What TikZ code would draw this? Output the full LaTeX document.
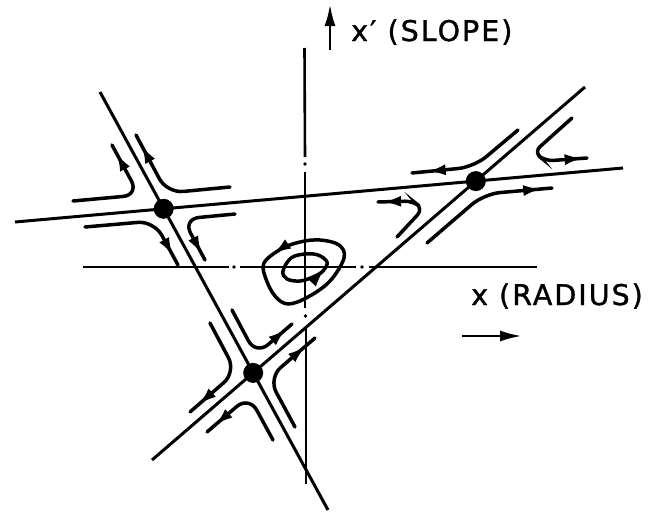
\documentclass[tikz,border=0pt]{standalone}
\usepackage{fontspec}
\newfontfamily\lab[LetterSpace=7,FakeBold=1.2]{DejaVu Sans}
\usetikzlibrary{arrows.meta,decorations.markings}
\begin{document}
\begin{tikzpicture}[x=1pt,y=-1pt,
  sep/.style={line width=3pt},
  axisline/.style={line width=2.6pt},
  traj/.style={line width=3.5pt, rounded corners=16pt, line cap=round},
  loop/.style={line width=3.5pt},
  flow/.style={postaction={decorate},decoration={markings,mark=at position #1 with {\arrow[line width=1pt]{Latex[length=16pt,width=11pt]}}}},
  saddle/.style={circle,fill=black,inner sep=0pt,minimum size=20pt},
  lbl/.style={font=\lab\fontsize{28.5}{30}\selectfont, inner sep=0pt},
  axdot/.style={fill=black}
]
\useasboundingbox (0,0) rectangle (656,514);

% separatrix end points
\coordinate (A0) at (100,92);  \coordinate (A1) at (328,510);
\coordinate (B0) at (15,222);  \coordinate (B1) at (623,168);
\coordinate (C0) at (152,460); \coordinate (C1) at (585,87);

% axes (dash-dot)
\draw[axisline] (304.5,48) -- (305,157);
\fill[axdot] (305,164) circle (1.9);
\draw[axisline] (305,172) -- (305,308);
\fill[axdot] (305.5,316) circle (1.9);
\draw[axisline] (306,326) -- (306,484);

\draw[axisline] (83,267) -- (229,267);
\fill[axdot] (234,267) circle (1.9);
\draw[axisline] (240,267) -- (356,267);
\fill[axdot] (362,267) circle (1.9);
\draw[axisline] (369,267) -- (537,267);

% separatrices
\draw[sep] (A0) -- (A1);
\draw[sep] (B0) -- (B1);
\draw[sep] (C0) -- (C1);

% saddle points
\node[saddle] (s1) at (163.7,208.8) {};
\node[saddle] (s2) at (475.8,181.1) {};
\node[saddle] (s3) at (253.2,372.9) {};

% trajectories around saddle 1
\draw[traj,flow=0.9]  (73,201) -- (139,195) -- (112,145);
\draw[traj,flow=0.89] (230,187) -- (167,193) -- (136,135);
\draw[traj,flow=0.89] (85,227) -- (154,221) -- (178,265);
\draw[traj,flow=0.9]  (235,214) -- (183,219) -- (205,260);

% trajectories around saddle 2
\draw[traj,flow=0.85] (518,130) -- (474,167) -- (412,173);
\draw[traj,rounded corners=8pt,flow=0.94] (572,118) -- (534,152) -- (545,161) -- (587,158);
\draw[traj,flow=0.91]  (427,243) -- (484,194) -- (552,188);
\draw[traj,rounded corners=8pt,flow=0.92] (397,237) -- (423,209) -- (413,201) -- (378,202);

% trajectories around saddle 3
\draw[traj,flow=0.89] (232,310) -- (256,355) -- (292,324);
\draw[traj,flow=0.88] (210,323) -- (236,372) -- (190,412);
\draw[traj,flow=0.87] (273,440) -- (249,396) -- (207,432);
\draw[traj,flow=0.87] (295,427) -- (268.5,378) -- (315,338);

% closed orbits around the centre
\draw[loop,flow=0.86] plot[smooth cycle, tension=0.6] coordinates
  {(264,263) (266,279) (275,296) (288,304) (308,297) (330,281) (344,258) (339,245) (320,240) (300,242) (281,249)};
\draw[loop,flow=0.34] plot[smooth cycle, tension=0.6] coordinates
  {(283,271) (287,279) (300,281) (313,277) (323,271) (327,262) (318,255) (305,254) (291,258)};

% axis direction arrows
\coordinate (up0) at (330,50); \coordinate (up1) at (330,4);
\draw[line width=2.8pt,-{Latex[length=22pt,width=11pt]}] (up0) -- (up1);
\coordinate (rt0) at (462,336); \coordinate (rt1) at (522,336);
\draw[line width=2.8pt,-{Latex[length=22pt,width=11pt]}] (rt0) -- (rt1);

% labels
\node[lbl,anchor=base west] (slope) at (351,41) {x′ (SLOPE)};
\node[lbl,anchor=base west] (radius) at (471,305) {x (RADIUS)};
\end{tikzpicture}
\end{document}
